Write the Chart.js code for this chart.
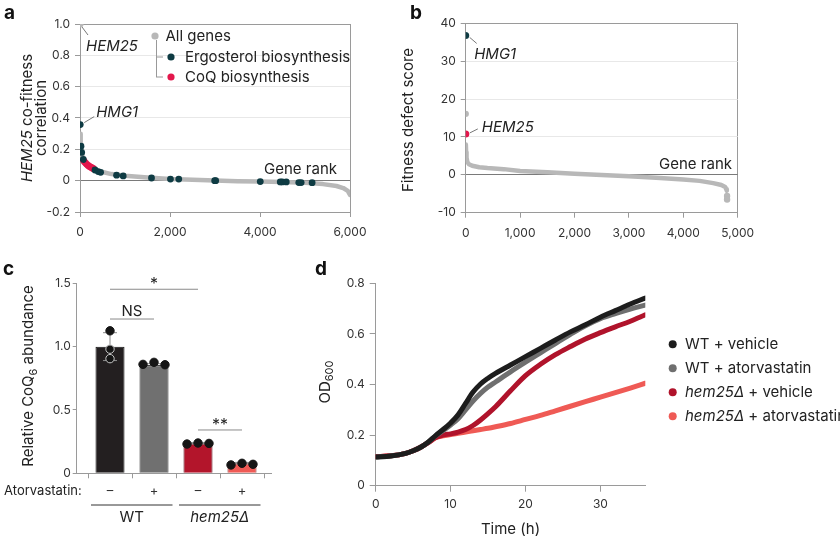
<!DOCTYPE html>
<html>
<head>
<meta charset="utf-8">
<script src="https://cdn.jsdelivr.net/npm/chart.js@4.4.1/dist/chart.umd.min.js"></script>
<style>
  body { margin: 0; background: #fff; width: 840px; height: 540px; position: relative; overflow: hidden; }
  canvas { position: absolute; }
</style>
</head>
<body>
<canvas id="ca" width="410" height="250" style="left:0px;top:0px"></canvas>
<canvas id="cb" width="450" height="250" style="left:390px;top:0px"></canvas>
<canvas id="cc" width="320" height="290" style="left:0px;top:250px"></canvas>
<canvas id="cd" width="535" height="290" style="left:305px;top:250px"></canvas>
<script>
// ---- panel a: HEM25 co-fitness vs gene rank
const aRank = [3, 10, 20, 35, 60, 100, 150, 200, 300, 400, 500, 700, 1000, 1500, 2000, 2500, 3000, 3500, 4000, 4500, 5000, 5400, 5700, 5850, 5950, 6000];
const aCorr = [0.30, 0.27, 0.23, 0.185, 0.152, 0.122, 0.104, 0.093, 0.076, 0.063, 0.055, 0.042, 0.032, 0.02, 0.011, 0.006, 0.001, -0.003, -0.006, -0.009, -0.013, -0.022, -0.034, -0.047, -0.065, -0.09];
const aSelfRank = [0];
const aSelfCorr = [1.0];
const aErgoRank = [5, 22, 37, 74, 333, 406, 458, 813, 960, 1589, 2010, 2195, 2993, 3015, 4006, 4450, 4493, 4583, 4862, 4914, 5158];
const aErgoCorr = [0.358, 0.22, 0.18, 0.135, 0.068, 0.058, 0.053, 0.035, 0.03, 0.017, 0.01, 0.01, 0.0, 0.0, -0.006, -0.008, -0.008, -0.008, -0.012, -0.012, -0.013];
const aCoqRank = [80, 100, 125, 150, 180, 210, 240, 270, 300];
const aCoqCorr = [0.128, 0.12, 0.112, 0.104, 0.097, 0.091, 0.086, 0.081, 0.076];
const aXTicks = [0, 2000, 4000, 6000];
const aYTicks = [-0.2, 0, 0.2, 0.4, 0.6, 0.8, 1.0];

// ---- panel b: fitness defect score vs gene rank
const bRank = [3, 8, 15, 30, 60, 120, 250, 400, 700, 1000, 1500, 2000, 2500, 3000, 3500, 4000, 4300, 4550, 4700, 4770, 4790, 4800];
const bScore = [8, 6, 4.5, 3.4, 2.8, 2.4, 2.0, 1.8, 1.5, 1.0, 0.65, 0.3, -0.05, -0.4, -0.8, -1.25, -1.6, -2.2, -2.7, -3.2, -3.8, -4.2];
const bExtraRank = [0, 4805, 4805];
const bExtraScore = [16.1, -5.6, -6.5];
const bHmgRank = [0];
const bHmgScore = [36.8];
const bHemRank = [2];
const bHemScore = [10.8];
const bXTicks = [0, 1000, 2000, 3000, 4000, 5000];
const bYTicks = [-10, 0, 10, 20, 30, 40];

// ---- panel c: relative CoQ6 abundance
const cTickLabels = ['–', '+', '–', '+'];
const cBars = [1.0, 0.855, 0.237, 0.08];
const cSd = [0.11, 0.01, 0.005, 0.006];
const cDotX = [0, 0, 0, 0.75, 1, 1.25, 1.75, 2, 2.25, 2.75, 3, 3.25];
const cDotY = [1.125, 0.98, 0.905, 0.86, 0.876, 0.857, 0.231, 0.239, 0.236, 0.066, 0.079, 0.071];
const cYTicks = [0, 0.5, 1.0, 1.5];

// ---- panel d: growth curves
const dTime = [0, 2, 4, 5, 6, 7, 8, 9, 10, 11, 12, 13, 14, 15, 16, 18, 20, 22, 24, 26, 28, 30, 32, 34, 36];
const dWtVeh = [0.113, 0.117, 0.128, 0.138, 0.152, 0.172, 0.198, 0.222, 0.248, 0.28, 0.325, 0.37, 0.402, 0.425, 0.444, 0.477, 0.51, 0.543, 0.576, 0.608, 0.636, 0.666, 0.692, 0.718, 0.742];
const dWtAtor = [0.113, 0.117, 0.128, 0.138, 0.152, 0.172, 0.197, 0.218, 0.24, 0.265, 0.3, 0.335, 0.365, 0.39, 0.41, 0.45, 0.488, 0.525, 0.562, 0.598, 0.632, 0.66, 0.68, 0.698, 0.714];
const dHemVeh = [0.115, 0.118, 0.128, 0.138, 0.152, 0.17, 0.19, 0.2, 0.205, 0.212, 0.222, 0.238, 0.26, 0.285, 0.312, 0.375, 0.435, 0.48, 0.518, 0.55, 0.58, 0.605, 0.628, 0.65, 0.675];
const dHemAtor = [0.115, 0.118, 0.128, 0.138, 0.152, 0.17, 0.19, 0.197, 0.202, 0.207, 0.212, 0.217, 0.222, 0.227, 0.233, 0.246, 0.262, 0.278, 0.296, 0.314, 0.332, 0.35, 0.368, 0.386, 0.405];
const dXTicks = [0, 10, 20, 30];
const dYTicks = [0, 0.2, 0.4, 0.6, 0.8];

const FAM = 'Inter, "Noto Sans", sans-serif';
const INK = '#222';
const TICK = '#333';
const AX = '#9a9a9a';
const GENE_GRAY = '#b8b8b8';
const TEAL = '#0e3b43';
const CRIMSON = '#e3174c';

function zip(xs, ys) { return xs.map((x, i) => ({ x: x, y: ys[i] })); }

function fontFor(st, size) {
  if (st === 'i') return 'italic ' + size + 'px ' + FAM;
  if (st === 'sub') return Math.round(size * 0.7) + 'px ' + FAM;
  if (st === 'b') return 'bold ' + size + 'px ' + FAM;
  return size + 'px ' + FAM;
}

// draw text made of styled parts (italic / subscript)
function rich(ctx, parts, x, y, size, align) {
  let w = 0;
  const widths = parts.map(p => {
    ctx.font = fontFor(p[1], size);
    const tw = ctx.measureText(p[0]).width;
    w += tw;
    return tw;
  });
  let cx = align === 'center' ? x - w / 2 : align === 'right' ? x - w : x;
  ctx.textAlign = 'left';
  ctx.textBaseline = 'middle';
  parts.forEach((p, i) => {
    ctx.font = fontFor(p[1], size);
    ctx.fillText(p[0], cx, p[1] === 'sub' ? y + size * 0.32 : y);
    cx += widths[i];
  });
}

function vrich(ctx, parts, x, y, size) {
  ctx.save();
  ctx.translate(x, y);
  ctx.rotate(-Math.PI / 2);
  rich(ctx, parts, 0, 0, size, 'center');
  ctx.restore();
}

function letter(ctx, s, x, y) {
  ctx.font = 'bold 19px ' + FAM;
  ctx.fillStyle = '#111';
  ctx.textAlign = 'left';
  ctx.textBaseline = 'alphabetic';
  ctx.fillText(s, x, y);
}

function line(ctx, x1, y1, x2, y2, color, w) {
  ctx.strokeStyle = color;
  ctx.lineWidth = w || 1;
  ctx.beginPath();
  ctx.moveTo(x1, y1);
  ctx.lineTo(x2, y2);
  ctx.stroke();
}

function dot(ctx, x, y, r, color) {
  ctx.fillStyle = color;
  ctx.beginPath();
  ctx.arc(x, y, r, 0, Math.PI * 2);
  ctx.fill();
}

function baseOpts(pad) {
  return {
    responsive: false,
    animation: false,
    events: [],
    layout: { padding: pad },
    plugins: { legend: { display: false }, tooltip: { enabled: false } }
  };
}

const tickFont = { family: FAM, size: 12 };

// ================= panel a
const aPlugin = {
  id: 'aExtra',
  afterDraw(chart) {
    const { ctx, scales: { x, y } } = chart;
    ctx.save();
    letter(ctx, 'a', 4, 19);
    ctx.fillStyle = INK;
    vrich(ctx, [['HEM25', 'i'], [' co-fitness', '']], 27, 118, 15);
    vrich(ctx, [['correlation', '']], 41, 118, 15);

    // labels for HEM25 and HMG1
    let px = x.getPixelForValue(aSelfRank[0]), py = y.getPixelForValue(aSelfCorr[0]);
    line(ctx, px + 2, py + 3, px + 8, py + 11, '#777');
    ctx.fillStyle = INK;
    rich(ctx, [['HEM25', 'i']], px + 6, py + 22, 15, 'left');
    px = x.getPixelForValue(aErgoRank[0]); py = y.getPixelForValue(aErgoCorr[0]);
    line(ctx, px + 4, py - 2, px + 14, py - 8, '#777');
    ctx.fillStyle = INK;
    rich(ctx, [['HMG1', 'i']], px + 16, py - 12, 15, 'left');

    // nested legend
    line(ctx, 156.5, 40, 156.5, 77, '#999');
    line(ctx, 156.5, 57, 163, 57, '#999');
    line(ctx, 156, 77, 163, 77, '#999');
    dot(ctx, 155, 36, 3.6, GENE_GRAY);
    dot(ctx, 171, 57, 3.6, TEAL);
    dot(ctx, 171, 77, 3.6, CRIMSON);
    ctx.fillStyle = INK;
    rich(ctx, [['All genes', '']], 165.5, 36, 15, 'left');
    rich(ctx, [['Ergosterol biosynthesis', '']], 185, 57, 15, 'left');
    rich(ctx, [['CoQ biosynthesis', '']], 185, 77, 15, 'left');
    rich(ctx, [['Gene rank', '']], 337, 169, 15, 'right');
    ctx.restore();
  }
};

new Chart(document.getElementById('ca'), {
  type: 'scatter',
  data: {
    datasets: [
      { label: 'HEM25', data: zip(aSelfRank, aSelfCorr), backgroundColor: GENE_GRAY, pointRadius: 3.6, borderWidth: 0 },
      { label: 'Ergosterol biosynthesis', data: zip(aErgoRank, aErgoCorr), backgroundColor: TEAL, pointRadius: 3.4, borderWidth: 0 },
      { label: 'CoQ biosynthesis', data: zip(aCoqRank, aCoqCorr), backgroundColor: CRIMSON, pointRadius: 3.4, borderWidth: 0 },
      { label: 'All genes', data: zip(aRank, aCorr), showLine: true, borderColor: GENE_GRAY, borderWidth: 4.5,
        pointRadius: 0, borderCapStyle: 'round', borderJoinStyle: 'round', tension: 0 }
    ]
  },
  options: Object.assign(baseOpts({ left: 0, right: 60, top: 24, bottom: 0 }), {
    scales: {
      x: {
        type: 'linear', min: 0, max: 6000,
        afterBuildTicks: s => { s.ticks = aXTicks.map(v => ({ value: v })); },
        afterFit: s => { s.height = 38; },
        ticks: { font: tickFont, color: TICK, padding: 8, maxRotation: 0, callback: v => v.toLocaleString('en-US') },
        grid: { color: c => (c.tick && c.tick.value === 6000 ? AX : 'rgba(0,0,0,0)'), tickColor: AX, tickLength: 5 },
        border: { color: AX }
      },
      y: {
        min: -0.2, max: 1.0,
        afterBuildTicks: s => { s.ticks = aYTicks.map(v => ({ value: v })); },
        afterFit: s => { s.width = 80; },
        ticks: { font: tickFont, color: TICK, padding: 5, callback: v => (v === 0 ? '0' : v.toFixed(1)) },
        grid: {
          color: c => {
            const v = c.tick ? c.tick.value : null;
            if (v === 0) return '#7a7a7a';
            if (v === 1) return AX;
            if (v === -0.2) return 'rgba(0,0,0,0)';
            return '#e8e8e8';
          },
          tickColor: AX, tickLength: 5
        },
        border: { color: AX }
      }
    }
  }),
  plugins: [aPlugin]
});

// ================= panel b
const bPlugin = {
  id: 'bExtra',
  afterDraw(chart) {
    const { ctx, scales: { x, y } } = chart;
    ctx.save();
    letter(ctx, 'b', 20, 19);
    ctx.fillStyle = INK;
    vrich(ctx, [['Fitness defect score', '']], 18, 120, 15);
    let px = x.getPixelForValue(bHmgRank[0]), py = y.getPixelForValue(bHmgScore[0]);
    line(ctx, px + 4, py + 2, px + 11, py + 8, '#777');
    ctx.fillStyle = INK;
    rich(ctx, [['HMG1', 'i']], px + 8.5, py + 19, 15, 'left');
    px = x.getPixelForValue(bHemRank[0]); py = y.getPixelForValue(bHemScore[0]);
    line(ctx, px + 4, py - 1, px + 12, py - 5, '#777');
    ctx.fillStyle = INK;
    rich(ctx, [['HEM25', 'i']], px + 16, py - 6, 15, 'left');
    rich(ctx, [['Gene rank', '']], 342, 164, 15, 'right');
    ctx.restore();
  }
};

new Chart(document.getElementById('cb'), {
  type: 'scatter',
  data: {
    datasets: [
      { label: 'HMG1', data: zip(bHmgRank, bHmgScore), backgroundColor: TEAL, pointRadius: 3.5, borderWidth: 0 },
      { label: 'HEM25', data: zip(bHemRank, bHemScore), backgroundColor: CRIMSON, pointRadius: 3.5, borderWidth: 0 },
      { label: 'Other', data: zip(bExtraRank, bExtraScore), backgroundColor: GENE_GRAY, pointRadius: 3.2, borderWidth: 0 },
      { label: 'All genes', data: zip(bRank, bScore), showLine: true, borderColor: GENE_GRAY, borderWidth: 4.5,
        pointRadius: 0, borderCapStyle: 'round', borderJoinStyle: 'round', tension: 0 }
    ]
  },
  options: Object.assign(baseOpts({ left: 0, right: 102.3, top: 23.3, bottom: 0 }), {
    scales: {
      x: {
        type: 'linear', min: 0, max: 5000,
        afterBuildTicks: s => { s.ticks = bXTicks.map(v => ({ value: v })); },
        afterFit: s => { s.height = 37.3; },
        ticks: { font: tickFont, color: TICK, padding: 8, maxRotation: 0, callback: v => v.toLocaleString('en-US') },
        grid: { color: c => (c.tick && c.tick.value === 5000 ? AX : 'rgba(0,0,0,0)'), tickColor: AX, tickLength: 5 },
        border: { color: AX }
      },
      y: {
        min: -10, max: 40,
        afterBuildTicks: s => { s.ticks = bYTicks.map(v => ({ value: v })); },
        afterFit: s => { s.width = 75.7; },
        ticks: { font: tickFont, color: TICK, padding: 5, callback: v => String(v) },
        grid: {
          color: c => {
            const v = c.tick ? c.tick.value : null;
            if (v === 0) return '#7a7a7a';
            if (v === 40) return AX;
            if (v === -10) return 'rgba(0,0,0,0)';
            return '#e8e8e8';
          },
          tickColor: AX, tickLength: 5
        },
        border: { color: AX }
      }
    }
  }),
  plugins: [bPlugin]
});

// ================= panel c
const cPlugin = {
  id: 'cExtra',
  afterDatasetDraw(chart, args) {
    if (args.index !== 1) return;
    const { ctx, scales: { x, y } } = chart;
    ctx.save();
    cBars.forEach((v, i) => {
      const px = x.getPixelForValue(i);
      const top = y.getPixelForValue(v + cSd[i]);
      const bot = y.getPixelForValue(v - cSd[i]);
      line(ctx, px, top, px, bot, '#8a8a8a');
      line(ctx, px - 7, top, px + 7, top, '#8a8a8a');
      line(ctx, px - 7, bot, px + 7, bot, '#8a8a8a');
    });
    ctx.restore();
  },
  afterDraw(chart) {
    const { ctx, scales: { x, y } } = chart;
    ctx.save();
    letter(ctx, 'c', 3, 25);
    ctx.fillStyle = INK;
    vrich(ctx, [['Relative CoQ', ''], ['6', 'sub'], [' abundance', '']], 28.5, 126, 15);

    // significance lines
    const sig = [[0, 2, 1.453, '*'], [0, 1, 1.218, 'NS'], [2, 3, 0.342, '**']];
    sig.forEach(s => {
      const x1 = x.getPixelForValue(s[0]), x2 = x.getPixelForValue(s[1]);
      const py = y.getPixelForValue(s[2]);
      line(ctx, x1, py, x2, py, '#8a8a8a');
      ctx.fillStyle = INK;
      rich(ctx, [[s[3], '']], (x1 + x2) / 2, py - (s[3] === 'NS' ? 8 : 5), s[3] === 'NS' ? 15 : 16, 'center');
    });

    ctx.fillStyle = INK;
    rich(ctx, [['Atorvastatin:', '']], 81.7, 240.7, 13, 'right');
    const g = [[0, 1, [['WT', '']]], [2, 3, [['hem25Δ', 'i']]]];
    g.forEach(gr => {
      const x1 = x.getPixelForValue(gr[0]) - 19, x2 = x.getPixelForValue(gr[1]) + 18.5;
      line(ctx, x1, 255, x2, 255, '#333');
      ctx.fillStyle = INK;
      rich(ctx, gr[2], (x1 + x2) / 2, 267, 15, 'center');
    });
    ctx.restore();
  }
};

new Chart(document.getElementById('cc'), {
  type: 'bar',
  data: {
    datasets: [
      { type: 'scatter', label: 'Replicates', data: zip(cDotX, cDotY), backgroundColor: '#151515',
        pointRadius: 4.2, borderWidth: 1,
        borderColor: c => (c.dataIndex === 1 || c.dataIndex === 2 ? '#c8c8c8' : '#151515') },
      { type: 'bar', label: 'Mean', data: cBars.map((v, i) => ({ x: i, y: v })),
        backgroundColor: ['#231f20', '#707070', '#b3152b', '#ef5a55'],
        borderColor: ['#111', '#333', '#5a0a14', '#8a2a28'], borderWidth: 1,
        barPercentage: 0.66, categoryPercentage: 1 }
    ]
  },
  options: Object.assign(baseOpts({ left: 0, right: 48.3, top: 33.3, bottom: 0 }), {
    scales: {
      x: {
        type: 'linear', min: -0.757, max: 3.675, offset: false,
        afterBuildTicks: s => { s.ticks = [0, 1, 2, 3].map(v => ({ value: v })); },
        afterFit: s => { s.height = 66.7; },
        ticks: { font: { family: FAM, size: 13 }, color: TICK, padding: 5, maxRotation: 0,
          callback: (v, i) => cTickLabels[i] },
        grid: { drawOnChartArea: false, tickColor: AX, tickLength: 5 },
        border: { color: AX }
      },
      y: {
        min: 0, max: 1.5,
        afterBuildTicks: s => { s.ticks = cYTicks.map(v => ({ value: v })); },
        afterFit: s => { s.width = 76.7; },
        ticks: { font: tickFont, color: TICK, padding: 2, callback: v => (v === 0 ? '0' : v.toFixed(1)) },
        grid: { drawOnChartArea: false, tickColor: AX, tickLength: 4 },
        border: { color: AX }
      }
    }
  }),
  plugins: [cPlugin]
});

// ================= panel d
const dColors = ['#1d1d1d', '#6f6f6f', '#b0132b', '#ef5a55'];
const dLabels = [
  [['WT + vehicle', '']],
  [['WT + atorvastatin', '']],
  [['hem25Δ', 'i'], [' + vehicle', '']],
  [['hem25Δ', 'i'], [' + atorvastatin', '']]
];
const dPlugin = {
  id: 'dExtra',
  afterDraw(chart) {
    const { ctx } = chart;
    ctx.save();
    letter(ctx, 'd', 10, 25);
    ctx.fillStyle = INK;
    vrich(ctx, [['OD', ''], ['600', 'sub']], 20, 132, 15);
    rich(ctx, [['Time (h)', '']], (chart.chartArea.left + chart.chartArea.right) / 2, 279, 15, 'center');
    dLabels.forEach((lab, i) => {
      const yy = 94.3 + 24 * i;
      dot(ctx, 367.7, yy, 4, dColors[i]);
      ctx.fillStyle = INK;
      rich(ctx, lab, 380, yy, 15, 'left');
    });
    ctx.restore();
  }
};

const dSeries = [dWtVeh, dWtAtor, dHemVeh, dHemAtor];
new Chart(document.getElementById('cd'), {
  type: 'line',
  data: {
    datasets: dSeries.map((s, i) => ({
      label: 'series' + i,
      data: zip(dTime, s),
      borderColor: dColors[i],
      borderWidth: 5,
      pointRadius: 0,
      cubicInterpolationMode: 'monotone',
      borderCapStyle: 'round',
      fill: false
    }))
  },
  options: Object.assign(baseOpts({ left: 0, right: 194.7, top: 33.3, bottom: 0 }), {
    scales: {
      x: {
        type: 'linear', min: 0, max: 36,
        afterBuildTicks: s => { s.ticks = dXTicks.map(v => ({ value: v })); },
        afterFit: s => { s.height = 54.3; },
        ticks: { font: tickFont, color: TICK, padding: 5, maxRotation: 0 },
        grid: { drawOnChartArea: false, tickColor: AX, tickLength: 6 },
        border: { color: AX }
      },
      y: {
        min: 0, max: 0.8,
        afterBuildTicks: s => { s.ticks = dYTicks.map(v => ({ value: v })); },
        afterFit: s => { s.width = 70.7; },
        ticks: { font: tickFont, color: TICK, padding: 5, callback: v => (v === 0 ? '0' : v.toFixed(1)) },
        grid: { drawOnChartArea: false, tickColor: AX, tickLength: 6 },
        border: { color: AX }
      }
    }
  }),
  plugins: [dPlugin]
});
</script>
</body>
</html>
